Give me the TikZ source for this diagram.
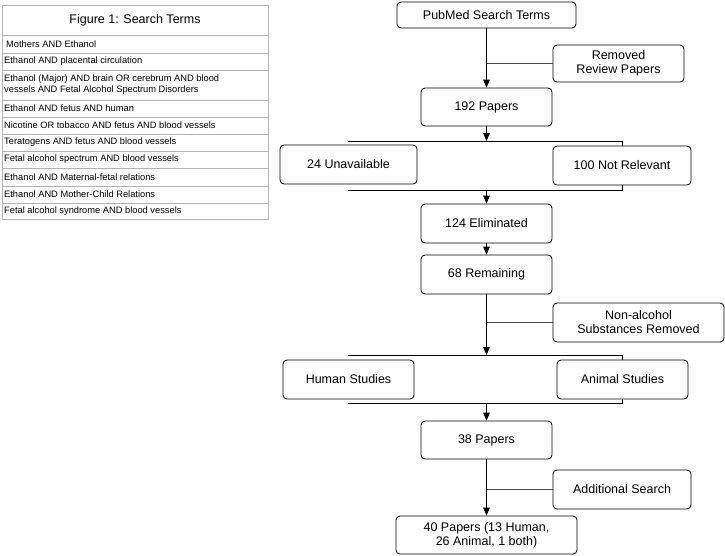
\documentclass[tikz,border=0pt]{standalone}
\usepackage{fontspec}
\setmainfont{Liberation Sans}
\usetikzlibrary{arrows}

\begin{document}
\begin{tikzpicture}[x=1pt,y=-1pt,
	box/.style={rectangle,rounded corners=4pt,draw,thick,align=center,font=\fontsize{12.5}{14}\selectfont,inner sep=0pt},
	row/.style={anchor=west,font=\fontsize{9.3}{11}\selectfont,align=left,inner sep=0pt},
	grid/.style={draw=black!30,thick},
	flow/.style={thick,-triangle 45},
	sideline/.style={thick,black!70}]
	\useasboundingbox (0,0) rectangle (725,555);
%	search terms table
	\draw[grid] (2,5) rectangle (268,219);
	\foreach \y in {35,53,70,100,117,134,151,168,186,203}
		\draw[grid] (2,\y) -- (268,\y);
	\node (title) at (135,20) [font=\fontsize{12.5}{14}\selectfont] {Figure 1: Search Terms};
	\node (t1) at (6,44) [row] {Mothers AND Ethanol};
	\node (t2) at (4,61.5) [row] {Ethanol AND placental circulation};
	\node (t3) at (4,85) [row] {Ethanol (Major) AND brain OR cerebrum AND blood\\vessels AND Fetal Alcohol Spectrum Disorders};
	\node (t4) at (4,108.5) [row] {Ethanol AND fetus AND human};
	\node (t5) at (4,125.5) [row] {Nicotine OR tobacco AND fetus AND blood vessels};
	\node (t6) at (4,142.5) [row] {Teratogens AND fetus AND blood vessels};
	\node (t7) at (4,159.5) [row] {Fetal alcohol spectrum AND blood vessels};
	\node (t8) at (4,177) [row] {Ethanol AND Maternal-fetal relations};
	\node (t9) at (4,194.5) [row] {Ethanol AND Mother-Child Relations};
	\node (t10) at (4,211.5) [row] {Fetal alcohol syndrome AND blood vessels};
%	flow chart
	\node (pubmed) at (486.5,15) [box,minimum width=179,minimum height=26] {PubMed Search Terms};
	\node (review) at (618.5,63.5) [box,minimum width=131,minimum height=37] {Removed\\Review Papers};
	\node (p192) at (486.5,107) [box,minimum width=131,minimum height=38] {192 Papers};
	\node (unavail) at (348.5,164.5) [box,minimum width=137,minimum height=39] {24 Unavailable};
	\node (notrel) at (622,165.5) [box,minimum width=138,minimum height=39] {100 Not Relevant};
	\node (elim) at (486.5,223.5) [box,minimum width=131,minimum height=39] {124 Eliminated};
	\node (remain) at (486.5,274.5) [box,minimum width=131,minimum height=39] {68 Remaining};
	\node (nonalc) at (638.5,322.5) [box,minimum width=171,minimum height=39] {Non-alcohol\\Substances Removed};
	\node (human) at (348.5,379.5) [box,minimum width=131,minimum height=39] {Human Studies};
	\node (animal) at (622.5,379.5) [box,minimum width=131,minimum height=39] {Animal Studies};
	\node (p38) at (486.5,440) [box,minimum width=131,minimum height=38] {38 Papers};
	\node (addl) at (622,489.5) [box,minimum width=138,minimum height=39] {Additional Search};
	\node (final) at (486.5,535) [box,minimum width=181,minimum height=38] {40 Papers (13 Human,\\26 Animal, 1 both)};
%	brackets round the split boxes
	\path (486.5,141) coordinate (split1_top);
	\path (486.5,190) coordinate (split1_bot);
	\path (486.5,355) coordinate (split2_top);
	\path (486.5,403) coordinate (split2_bot);
	\draw[thick] (unavail.north) ++(0,-4) |- (notrel.north |- split1_top) -- ++(0,5);
	\draw[thick] (unavail.south) ++(0,6) |- (notrel.south |- split1_bot) -- ++(0,-5);
	\draw[thick] (human.north) ++(0,-5) |- (animal.north |- split2_top) -- ++(0,5);
	\draw[thick] (human.south) ++(0,4) |- (animal.south |- split2_bot) -- ++(0,-4);
%	arrows
	\draw[flow] (pubmed) -- (p192);
	\draw[sideline] (review.west) -- (pubmed.south |- review.west);
	\draw[flow] (p192) -- (split1_top);
	\draw[flow] (split1_bot) -- (elim);
	\draw[flow] (elim) -- (remain);
	\draw[flow] (remain) -- (split2_top);
	\draw[sideline] (nonalc.west) -- (remain.south |- nonalc.west);
	\draw[flow] (split2_bot) -- (p38);
	\draw[flow] (p38) -- (final);
	\draw[sideline] (addl.west) -- (p38.south |- addl.west);
\end{tikzpicture}
\end{document}
